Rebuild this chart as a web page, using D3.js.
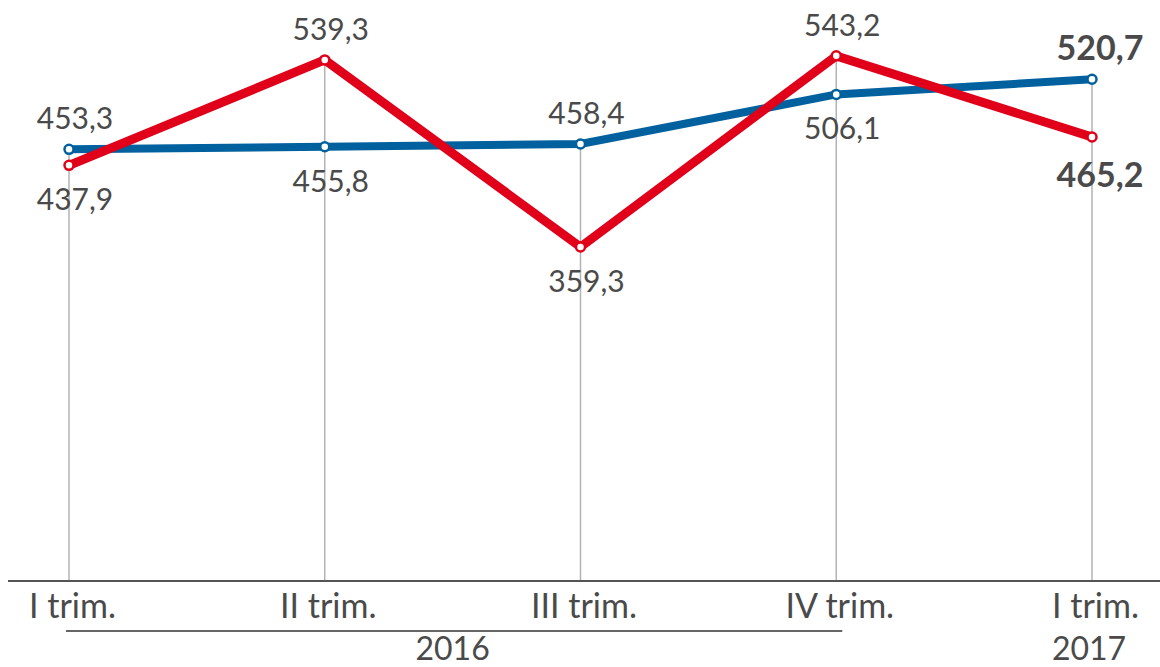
<!DOCTYPE html>
<html>
<head>
<meta charset="utf-8">
<script src="https://cdn.jsdelivr.net/npm/d3@7"></script>
<style>
  body { margin: 0; background: #fff; }
  svg text { font-family: Lato, "Open Sans", sans-serif; fill: #4a4a4a; }
</style>
</head>
<body>
<svg id="chart" width="1160" height="667"></svg>
<script>
const quarters = ['I trim. 2016', 'II trim. 2016', 'III trim. 2016', 'IV trim. 2016', 'I trim. 2017'];
const quarterLabels = ['I trim.', 'II trim.', 'III trim.', 'IV trim.', 'I trim.'];
const blueValues = [453.3, 455.8, 458.4, 506.1, 520.7];
const redValues = [437.9, 539.3, 359.3, 543.2, 465.2];
const bluePlacement = ['above', 'below', 'above', 'below', 'above'];
const redPlacement = ['below', 'above', 'below', 'above', 'below'];
const years = [
  { label: '2016', from: 0, to: 3 },
  { label: '2017', from: 4, to: 4 },
];

const svg = d3.select('#chart');
const baseY = 581;

const x = d3.scalePoint()
  .domain(quarters)
  .range([69, 1092]);

const y = d3.scaleLinear()
  .domain([38, 545])
  .range([baseY, 54]);

const fmt = v => d3.format('.1f')(v).replace('.', ',');

// vertical guides from the highest point down to the baseline
svg.append('g')
  .selectAll('line')
  .data(quarters)
  .join('line')
  .attr('x1', d => x(d))
  .attr('x2', d => x(d))
  .attr('y1', (d, i) => y(Math.max(blueValues[i], redValues[i])))
  .attr('y2', baseY)
  .attr('stroke', '#b3b3b3')
  .attr('stroke-width', 1.5);

// baseline
svg.append('line')
  .attr('x1', 8)
  .attr('x2', 1160)
  .attr('y1', baseY)
  .attr('y2', baseY)
  .attr('stroke', '#555')
  .attr('stroke-width', 2);

// x axis labels
const xAxis = d3.axisBottom(x)
  .tickSize(0)
  .tickPadding(0)
  .tickFormat((d, i) => quarterLabels[i]);

const axisG = svg.append('g')
  .attr('transform', `translate(0, ${baseY})`)
  .call(xAxis);
axisG.select('.domain').remove();
axisG.selectAll('text')
  .attr('dy', null)
  .attr('x', 3)
  .attr('y', 37)
  .style('font-size', '34px')
  .style('font-family', 'Lato, "Open Sans", sans-serif')
  .attr('fill', '#4a4a4a');

// year brackets
years.forEach(yr => {
  const x0 = x(quarters[yr.from]);
  const x1 = x(quarters[yr.to]);
  if (yr.to > yr.from) {
    svg.append('line')
      .attr('x1', x0 - 3)
      .attr('x2', x1 + 6)
      .attr('y1', 631)
      .attr('y2', 631)
      .attr('stroke', '#666')
      .attr('stroke-width', 2);
  }
  svg.append('text')
    .attr('x', (x0 + x1) / 2 + (yr.to > yr.from ? 0 : -3))
    .attr('y', 660)
    .attr('text-anchor', 'middle')
    .style('font-size', '32px')
    .text(yr.label);
});

const line = d3.line()
  .x((d, i) => x(quarters[i]))
  .y(d => y(d));

function drawSeries(values, color, width, placement) {
  const g = svg.append('g');
  g.append('path')
    .datum(values)
    .attr('d', line)
    .attr('fill', 'none')
    .attr('stroke', color)
    .attr('stroke-width', width)
    .attr('stroke-linejoin', 'miter');
  g.selectAll('circle')
    .data(values)
    .join('circle')
    .attr('cx', (d, i) => x(quarters[i]))
    .attr('cy', d => y(d))
    .attr('r', 4.5)
    .attr('fill', '#fff')
    .attr('stroke', color)
    .attr('stroke-width', 2.5);
  g.selectAll('text')
    .data(values)
    .join('text')
    .attr('x', (d, i) => x(quarters[i]) + (i === values.length - 1 ? 8 : 6))
    .attr('y', (d, i) => {
      const last = i === values.length - 1;
      if (placement[i] === 'above') return y(d) - (last ? 19 : 20);
      return y(d) + (last ? 50 : 45);
    })
    .attr('text-anchor', 'middle')
    .style('font-size', (d, i) => i === values.length - 1 ? '34px' : '30px')
    .style('font-weight', (d, i) => i === values.length - 1 ? 700 : 400)
    .attr('fill', (d, i) => i === values.length - 1 ? '#3a3a3a' : '#4a4a4a')
    .text(d => fmt(d));
}

drawSeries(blueValues, '#00619e', 8, bluePlacement);
drawSeries(redValues, '#e10019', 9, redPlacement);
</script>
</body>
</html>
